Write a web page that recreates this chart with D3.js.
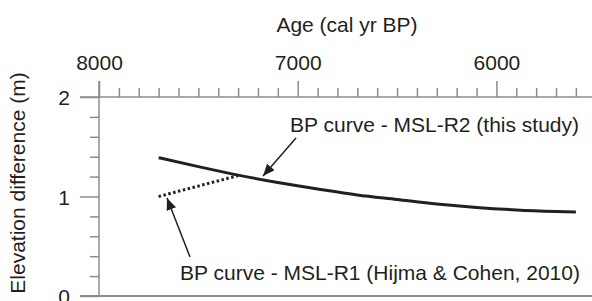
<!DOCTYPE html>
<html>
<head>
<meta charset="utf-8">
<script src="https://cdn.jsdelivr.net/npm/d3@7"></script>
<style>
  html, body { margin: 0; padding: 0; background: #fff; }
  svg { display: block; }
  text { font-family: "Liberation Sans", Arial, sans-serif; fill: #231f20; }
</style>
</head>
<body>
<svg id="chart" width="592" height="301"></svg>
<script>
// ---- data ----
const ageR2 = [7700, 7500, 7300, 7100, 6900, 6700, 6500, 6300, 6100, 5900, 5700, 5600];
const elevR2 = [1.39, 1.30, 1.215, 1.14, 1.075, 1.015, 0.97, 0.925, 0.89, 0.865, 0.85, 0.845];
const ageR1 = [7700, 7300];
const elevR1 = [1.00, 1.21];
const xMajorTicks = [8000, 7000, 6000];
const xMinorTicks = d3.range(8000, 5599, -100);
const yMajorTicks = [0, 1, 2];
const yMinorTicks = [0.2, 0.4, 0.6, 0.8, 1.2, 1.4, 1.6, 1.8];
const labelR2 = "BP curve - MSL-R2 (this study)";
const labelR1 = "BP curve - MSL-R1 (Hijma & Cohen, 2010)";
const xTitle = "Age (cal yr BP)";
const yTitle = "Elevation difference (m)";

const svg = d3.select("#chart");
const axisColor = "#8c8c8c";
const ink = "#231f20";

const x = d3.scaleLinear().domain([8000, 5520]).range([99, 591.8]);
const y = d3.scaleLinear().domain([0, 2]).range([296, 97]);

// defs: arrowhead
svg.append("defs").append("marker")
  .attr("id", "arr").attr("viewBox", "0 0 12 10")
  .attr("refX", 12).attr("refY", 5)
  .attr("markerWidth", 12).attr("markerHeight", 10)
  .attr("markerUnits", "userSpaceOnUse")
  .attr("orient", "auto")
  .append("path").attr("d", "M0,0 L12,5 L0,10 Z").attr("fill", ink);

// ---- axes ----
function styleAxis(g) {
  g.select(".domain").remove();
  g.selectAll(".tick line").attr("stroke", axisColor).attr("stroke-width", 1.5);
  g.selectAll("text").style("font-size", "21px").attr("fill", ink)
    .style("font-family", '"Liberation Sans", Arial, sans-serif');
}

// top axis minor
svg.append("g").attr("transform", `translate(0,${y(2)})`)
  .call(d3.axisTop(x).tickValues(xMinorTicks.filter(v => !xMajorTicks.includes(v))).tickSize(9).tickFormat(""))
  .call(styleAxis);
// top axis major
svg.append("g").attr("transform", `translate(0,${y(2)})`)
  .call(d3.axisTop(x).tickValues(xMajorTicks).tickSize(16).tickPadding(11).tickFormat(d3.format("d")))
  .call(styleAxis);

// left axis minor
svg.append("g").attr("transform", `translate(${x(8000)},0)`)
  .call(d3.axisLeft(y).tickValues(yMinorTicks).tickSize(9).tickFormat(""))
  .call(styleAxis);
// left axis major
svg.append("g").attr("transform", `translate(${x(8000)},0)`)
  .call(d3.axisLeft(y).tickValues(yMajorTicks).tickSize(19).tickPadding(10).tickFormat(d3.format("d")))
  .call(styleAxis)
  .call(g => g.selectAll("text").attr("dy", "0.36em"));

// axis lines (frame)
svg.append("line").attr("x1", 80).attr("x2", 592).attr("y1", y(2)).attr("y2", y(2))
  .attr("stroke", axisColor).attr("stroke-width", 1.5);
svg.append("line").attr("x1", 80).attr("x2", 592).attr("y1", y(0)).attr("y2", y(0))
  .attr("stroke", axisColor).attr("stroke-width", 2);
svg.append("line").attr("x1", x(8000)).attr("x2", x(8000)).attr("y1", y(2) - 16).attr("y2", y(0))
  .attr("stroke", axisColor).attr("stroke-width", 1.5);

// titles
svg.append("text").attr("x", 347).attr("y", 32).attr("text-anchor", "middle")
  .style("font-size", "21px").text(xTitle);
svg.append("text").attr("transform", "translate(25,183) rotate(-90)").attr("text-anchor", "middle")
  .style("font-size", "21px").text(yTitle);

// ---- curves ----
const r2 = ageR2.map((a, i) => [a, elevR2[i]]);
const r1 = ageR1.map((a, i) => [a, elevR1[i]]);
const line = d3.line().x(d => x(d[0])).y(d => y(d[1])).curve(d3.curveMonotoneX);

svg.append("path").datum(r1).attr("d", line)
  .attr("fill", "none").attr("stroke", ink).attr("stroke-width", 3)
  .attr("stroke-dasharray", "2.5,2.5");
svg.append("path").datum(r2).attr("d", line)
  .attr("fill", "none").attr("stroke", ink).attr("stroke-width", 3);

// ---- annotations ----
svg.append("text").attr("x", 290).attr("y", 132).style("font-size", "21px").text(labelR2);
svg.append("text").attr("x", 180).attr("y", 280).style("font-size", "21px").text(labelR1);

svg.append("line").attr("x1", 296).attr("y1", 138).attr("x2", 263).attr("y2", 176)
  .attr("stroke", ink).attr("stroke-width", 1.5).attr("marker-end", "url(#arr)");
svg.append("line").attr("x1", 190).attr("y1", 257).attr("x2", 167).attr("y2", 198)
  .attr("stroke", ink).attr("stroke-width", 1.5).attr("marker-end", "url(#arr)");
</script>
</body>
</html>
